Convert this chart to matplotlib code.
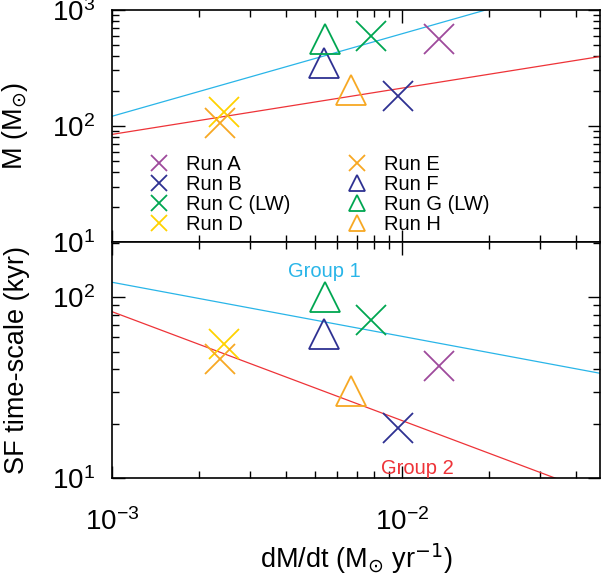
import numpy as np
import matplotlib.pyplot as plt
from matplotlib.ticker import LogLocator, NullFormatter, LogFormatterSciNotation

plt.rcParams['font.family'] = ['Liberation Sans', 'DejaVu Sans']
plt.rcParams['axes.unicode_minus'] = False

# accretion rate, cluster mass and star-formation time-scale per run
runs = ['Run A', 'Run B', 'Run C (LW)', 'Run D', 'Run E', 'Run F', 'Run G (LW)', 'Run H']
mdot = [0.0134, 0.0097, 0.0078, 0.00244, 0.00235, 0.0054, 0.00545, 0.0067]
mass = [560, 182, 590, 133, 106, 345, 560, 205]
t_sf = [41.7, 18.8, 74.8, 55.2, 45.4, 62.8, 100, 30.2]
markers = ['x', 'x', 'x', 'x', 'x', '^', '^', '^']
colors = ['#9E4A9C', '#2E3192', '#00A651', '#FFD200', '#F7A823',
          '#2E3192', '#00A651', '#F7A823']

# power-law fits: value at dM/dt = 1e-3 and slope
group1_mass = (121.0, 0.71)
group2_mass = (84.5, 0.398)
group1_tsf = (121.0, -0.299)
group2_tsf = (83.2, -0.602)

blue = '#29B5E8'
red = '#EE3338'

fig = plt.figure(figsize=(6.03, 5.85), dpi=100)
ax1 = fig.add_axes([0.1857, 0.5863, 0.8093, 0.397])
ax2 = fig.add_axes([0.1857, 0.1829, 0.8093, 0.4034], sharex=ax1)

xfit = np.logspace(-3, np.log10(0.0483), 200)


def power(p, x):
    return p[0] * (x / 1e-3) ** p[1]


ax1.plot(xfit, power(group1_mass, xfit), color=blue, lw=0.9)
ax1.plot(xfit, power(group2_mass, xfit), color=red, lw=0.9)
ax2.plot(xfit, power(group1_tsf, xfit), color=blue, lw=0.9)
ax2.plot(xfit, power(group2_tsf, xfit), color=red, lw=0.9)

for i in range(len(runs)):
    ms = 21
    ax1.plot(mdot[i], mass[i], marker=markers[i], color=colors[i], ms=ms,
             mew=1.3, mfc='none', ls='none', label=runs[i])
    ax2.plot(mdot[i], t_sf[i], marker=markers[i], color=colors[i], ms=ms,
             mew=1.3, mfc='none', ls='none')

ax2.text(0.0054, 138, 'Group 1', color=blue, fontsize=14.5, ha='center', va='center')
ax2.text(0.0113, 11.3, 'Group 2', color=red, fontsize=14.5, ha='center', va='center')

for ax in (ax1, ax2):
    ax.set_xscale('log')
    ax.set_yscale('log')
    ax.xaxis.set_minor_locator(LogLocator(subs=np.arange(2, 10)))
    ax.yaxis.set_minor_locator(LogLocator(subs=np.arange(2, 10)))
    ax.xaxis.set_minor_formatter(NullFormatter())
    ax.yaxis.set_minor_formatter(NullFormatter())
    ax.yaxis.set_major_formatter(LogFormatterSciNotation())
    ax.tick_params(which='both', direction='in', top=True, right=True, width=1)
    ax.tick_params(which='major', length=9, labelsize=20, pad=12)
    ax.tick_params(which='minor', length=5)
    for s in ax.spines.values():
        s.set_linewidth(1.2)

ax1.set_xlim(1e-3, 0.0483)
ax1.set_ylim(10, 1000)
ax2.set_ylim(10, 202)
ax1.tick_params(labelbottom=False)

ax1.set_ylabel(r'M (M$_{\odot}$)', fontsize=19.5)
ax2.set_ylabel('SF time-scale (kyr)', fontsize=19.5)
ax1.yaxis.set_label_coords(-0.168, 0.5)
ax2.yaxis.set_label_coords(-0.168, 0.5)
ax2.set_xlabel(r'dM/dt (M$_{\odot}$ yr$^{-1}$)', fontsize=19.5, labelpad=4)
ax2.tick_params(axis='x', pad=22)

ax1.legend(ncol=2, loc='lower left', bbox_to_anchor=(0.03, -0.045), frameon=False,
           fontsize=14.5, markerscale=0.52, labelspacing=0.05, handletextpad=0.65,
           columnspacing=2.6, handlelength=1.4)

fig.savefig('out.png', dpi=100)
